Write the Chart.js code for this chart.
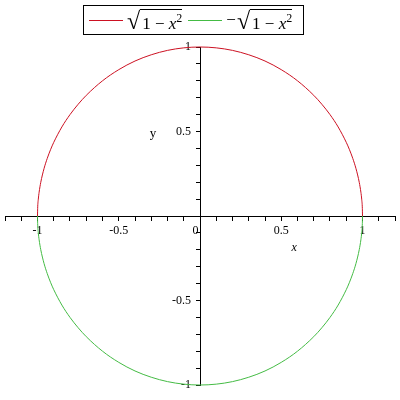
<!DOCTYPE html>
<html>
<head>
<meta charset="utf-8">
<script src="https://cdn.jsdelivr.net/npm/chart.js@4"></script>
<style>
  body{ margin:0; background:#fff; }
  #wrap{ position:relative; width:400px; height:400px; }
  #legend{ position:absolute; left:83px; top:5px; width:219px; height:28px; border:1px solid #000;
    font-family:"Liberation Serif", serif; font-size:17px; color:#000; display:flex; align-items:center; white-space:nowrap; }
  .item{ display:flex; align-items:center; margin-left:5px; }
  .item + .item{ margin-left:6px; }
  .swatch{ display:inline-block; width:34px; height:0; border-top:1px solid; margin-right:4px; }
  .rad{ font-size:24px; line-height:1; margin-top:2px; }
  .ov{ border-top:1px solid #000; padding-top:1px; padding-left:2px; margin-top:3px; }
  .ov i{ font-style:italic; }
</style>
</head>
<body>
<div id="wrap">
  <canvas id="c" width="400" height="400"></canvas>
  <div id="legend"></div>
</div>
<script>
// points
const xs = [-1, -0.999, -0.995, -0.99, -0.98, -0.96, -0.94, -0.92, -0.9, -0.85, -0.8, -0.75, -0.7, -0.6, -0.5, -0.4, -0.3, -0.2, -0.1,
  0, 0.1, 0.2, 0.3, 0.4, 0.5, 0.6, 0.7, 0.75, 0.8, 0.85, 0.9, 0.92, 0.94, 0.96, 0.98, 0.99, 0.995, 0.999, 1];
const upper = [0, 0.045, 0.1, 0.141, 0.199, 0.28, 0.341, 0.392, 0.436, 0.527, 0.6, 0.661, 0.714, 0.8, 0.866, 0.917, 0.954, 0.98, 0.995,
  1, 0.995, 0.98, 0.954, 0.917, 0.866, 0.8, 0.714, 0.661, 0.6, 0.527, 0.436, 0.392, 0.341, 0.28, 0.199, 0.141, 0.1, 0.045, 0];
const lower = [0, -0.045, -0.1, -0.141, -0.199, -0.28, -0.341, -0.392, -0.436, -0.527, -0.6, -0.661, -0.714, -0.8, -0.866, -0.917, -0.954, -0.98, -0.995,
  -1, -0.995, -0.98, -0.954, -0.917, -0.866, -0.8, -0.714, -0.661, -0.6, -0.527, -0.436, -0.392, -0.341, -0.28, -0.199, -0.141, -0.1, -0.045, 0];

const seriesNames = ['sqrt(1 - x^2)', '-sqrt(1 - x^2)'];
const seriesColors = ['#cc1122', '#44bb44'];

const xMajor = [-1, -0.5, 0, 0.5, 1];
const xMajorText = ['-1', '-0.5', '0   ', '0.5', '1'];
const yMajor = [-1, -0.5, 0.5, 1];
const yMajorText = ['-1   ', '-0.5   ', '0.5   ', '1   '];

function pts(ys){ return xs.map((x,i)=>({x:x, y:ys[i]})); }
function pick(v, vals, texts){
  for(let i=0;i<vals.length;i++){ if(Math.abs(v-vals[i])<1e-6) return texts[i]; }
  return '';
}

// legend in html so the radical can have its bar
const lg = document.getElementById('legend');
seriesNames.forEach((n,i)=>{
  const it = document.createElement('span');
  it.className = 'item';
  it.title = n;
  it.innerHTML = `<span class="swatch" style="border-color:${seriesColors[i]}"></span>` +
    (i==1 ? '<span style="margin-right:1px">&minus;</span>' : '') +
    `<span class="rad">&radic;</span><span class="ov">1 &minus; <i>x</i><sup style="font-size:12px">2</sup></span>`;
  lg.appendChild(it);
});

const axisTitles = {
  id:'axisTitles',
  afterDraw(chart){
    const ctx = chart.ctx, sx = chart.scales.x, sy = chart.scales.y;
    ctx.save();
    ctx.fillStyle = '#000';
    ctx.textAlign = 'center';
    ctx.textBaseline = 'middle';
    ctx.font = 'italic 12px "Liberation Serif"';
    ctx.fillText('x', sx.getPixelForValue(0.58), sy.getPixelForValue(-0.19));
    ctx.font = '13px "Liberation Serif"';
    ctx.fillText('y', sx.getPixelForValue(-0.29), sy.getPixelForValue(0.49));
    ctx.restore();
  }
};

const tickFont = { family:'"Liberation Serif"', size:12 };

new Chart(document.getElementById('c'), {
  type:'scatter',
  data:{ datasets:[
    { label:seriesNames[0], data:pts(upper), borderColor:seriesColors[0], borderWidth:1, showLine:true, pointRadius:0, cubicInterpolationMode:'monotone', clip:false },
    { label:seriesNames[1], data:pts(lower), borderColor:seriesColors[1], borderWidth:1, showLine:true, pointRadius:0, cubicInterpolationMode:'monotone', clip:false }
  ]},
  options:{
    responsive:false, animation:false, events:[],
    layout:{ padding:{ left:5, right:5, top:47, bottom:15 } },
    plugins:{ legend:{ display:false }, tooltip:{ enabled:false } },
    scales:{
      x:{ type:'linear', min:-1.2, max:1.2, position:{ y:0 },
        border:{ color:'#000', width:1 },
        grid:{ drawOnChartArea:false, drawTicks:true, tickLength:4, tickColor:'#000' },
        ticks:{ stepSize:0.1, autoSkip:false, maxRotation:0, color:'#000', font:tickFont, padding:4,
          callback:(v)=>pick(v, xMajor, xMajorText) } },
      y:{ type:'linear', min:-1, max:1, position:{ x:0 },
        border:{ color:'#000', width:1 },
        grid:{ drawOnChartArea:false, drawTicks:true, tickLength:4, tickColor:'#000' },
        ticks:{ stepSize:0.1, autoSkip:false, color:'#000', font:tickFont,
          callback:(v)=>pick(v, yMajor, yMajorText) } }
    }
  },
  plugins:[axisTitles]
});
</script>
</body>
</html>
